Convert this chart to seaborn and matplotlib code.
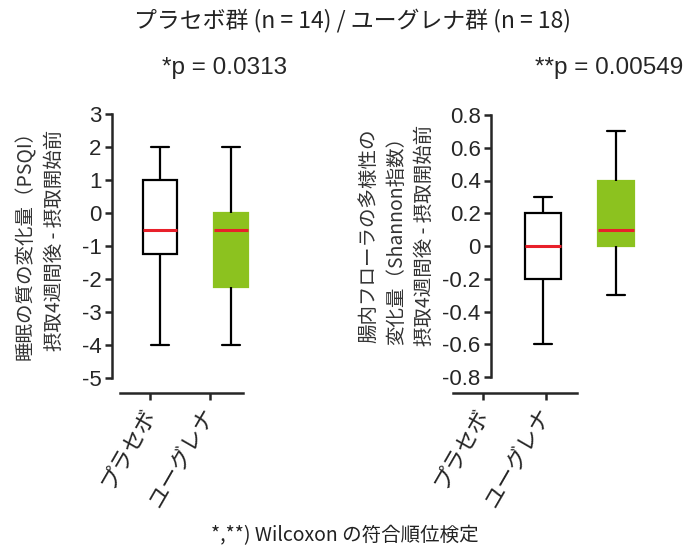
import numpy as np
import pandas as pd
import matplotlib
matplotlib.use("Agg")
import matplotlib.pyplot as plt
import seaborn as sns
from matplotlib.ticker import FuncFormatter

groups = ["プラセボ", "ユーグレナ"]

# five-number summaries: min, q1, median, q3, max
sleep_placebo = [-4.0, -1.25, -0.5, 1.0, 2.0]
sleep_euglena = [-4.0, -2.25, -0.5, 0.0, 2.0]
flora_placebo = [-0.6, -0.2, 0.0, 0.2, 0.3]
flora_euglena = [-0.3, 0.0, 0.1, 0.4, 0.7]

sleep_ticks = np.arange(-5, 4, 1)
flora_ticks = np.round(np.arange(-0.8, 0.81, 0.2), 1)

title = "プラセボ群 (n = 14) / ユーグレナ群 (n = 18)"
p_labels = ["*p = 0.0313", "**p = 0.00549"]
sleep_ylabel = "睡眠の質の変化量（PSQI）\n摂取4週間後 - 摂取開始前"
flora_ylabel = "腸内フローラの多様性の\n変化量（Shannon指数）\n摂取4週間後 - 摂取開始前"
footnote = "*,**) Wilcoxon の符合順位検定"

green = "#8cc21f"
red = "#e8202a"
box_colors = {"プラセボ": "white", "ユーグレナ": green}

sns.set_style("ticks")
plt.rcParams["font.family"] = ["Liberation Sans", "Noto Sans CJK JP"]
jp = ["Noto Sans CJK JP", "DejaVu Sans"]

W, H = 687, 549
fig = plt.figure(figsize=(W / 100, H / 100), dpi=100)


def rect(left, right, top, bottom):
    return [left / W, 1 - bottom / H, (right - left) / W, (bottom - top) / H]


def fmt(v, _):
    # avoid "-0" on the zero tick
    return f"{round(v, 2) + 0.0:g}"


def draw_panel(main_rect, main_xlim, axis_rect, axis_xlim, placebo, euglena,
               ticks, ylabel, label_x, label_y):
    ax = fig.add_axes(main_rect)
    df = pd.DataFrame({"group": np.repeat(groups, len(placebo)),
                       "value": placebo + euglena})
    sns.boxplot(data=df, x="group", y="value", hue="group", palette=box_colors,
                saturation=1, whis=(0, 100), width=0.49, linewidth=1.6,
                linecolor="black", medianprops={"color": red, "linewidth": 2.2},
                legend=False, ax=ax)
    # the Euglena box has no dark outline
    ax.patches[1].set_edgecolor(green)
    ax.set_xlim(*main_xlim)
    ax.set_ylim(ticks[0], ticks[-1])
    ax.set_yticks(ticks)
    ax.yaxis.set_major_formatter(FuncFormatter(fmt))
    ax.tick_params(axis="y", labelsize=16, width=1.8, length=5, pad=2.5)
    ax.set_xticks([])
    ax.set_xlabel("")
    sns.despine(ax=ax, bottom=True)
    ax.spines["left"].set_linewidth(1.8)
    ax.set_ylabel(ylabel, fontsize=14, linespacing=1.45, color="#333333",
                  family=jp)
    ax.yaxis.set_label_coords(label_x, label_y)

    # category axis drawn separately, it sits offset from the boxes
    xax = fig.add_axes(axis_rect)
    xax.set_xlim(*axis_xlim)
    xax.set_xticks(range(len(groups)))
    xax.set_xticklabels(groups, rotation=60, ha="right", va="center",
                        rotation_mode="anchor", fontsize=16, family=jp)
    xax.set_yticks([])
    sns.despine(ax=xax, left=True)
    xax.spines["bottom"].set_linewidth(1.8)
    xax.tick_params(axis="x", width=1.8, length=5, pad=7)
    xax.patch.set_alpha(0)
    return ax


draw_panel(rect(112, 270, 114, 378), (-0.676, 1.549),
           rect(120, 243, 392, 393), (-0.5, 1.55),
           sleep_placebo, sleep_euglena, sleep_ticks, sleep_ylabel, -0.30, 0.52)
draw_panel(rect(491, 650, 115, 377), (-0.712, 1.466),
           rect(453, 577, 392, 393), (-0.476, 1.49),
           flora_placebo, flora_euglena, flora_ticks, flora_ylabel, -0.35, 0.54)

fig.text(352 / W, 1 - 20 / H, title, ha="center", va="center", fontsize=16.5,
         family=jp, color="#222222")
fig.text(225 / W, 1 - 68 / H, p_labels[0], ha="center", va="center", fontsize=17.5)
fig.text(609 / W, 1 - 68 / H, p_labels[1], ha="center", va="center", fontsize=17.5)
fig.text(345 / W, 1 - 536 / H, footnote, ha="center", va="center", fontsize=14,
         family=jp, color="#222222")

fig.savefig("out.png", dpi=100)
